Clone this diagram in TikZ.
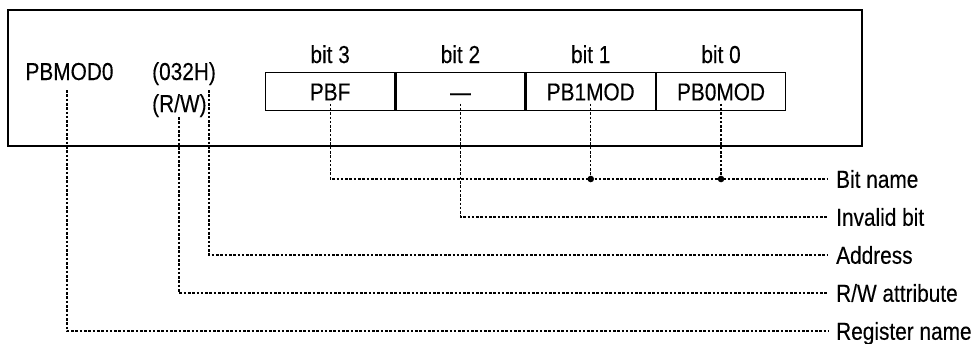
\documentclass[tikz,border=0pt]{standalone}
\usepackage{fontspec}
\setmainfont{Liberation Sans}[FakeStretch=0.85,FakeBold=0.25]
\begin{document}
\begin{tikzpicture}[x=1pt,y=-1pt,
  txt/.style={font=\fontsize{24.5}{28}\selectfont, inner sep=0pt},
  frame/.style={draw, line width=1.5pt},
  cell/.style={txt, draw, line width=1.3pt, minimum width=129pt, minimum height=38pt,
    text height=17.5pt, text depth=0pt, anchor=north west},
  leader/.style={line width=1.2pt, dash pattern=on 2.6pt off 1.7pt},
  tag/.style={txt, anchor=west, text height=17.5pt, text depth=0pt, inner xsep=8pt},
  joint/.style={fill=black}]
\useasboundingbox (0,0) rectangle (975,343);

% register frame
\draw[frame] (8,10) rectangle (862,146);

% register name, address and access
\node[txt, anchor=base] (reg) at (69.5,80) {PBMOD0};
\node[txt, anchor=base west] (addr) at (152,80) {(032H)};
\node[txt, anchor=base west] (rw) at (152,112) {(R/W)};

% bit cells
\node[cell] (b3) at (265,72) {PBF};
\node[cell] (b2) at (b3.north east) {—};
\node[cell] (b1) at (b2.north east) {PB1MOD};
\node[cell] (b0) at (b1.north east) {PB0MOD};

% bit numbers
\node[txt, anchor=base] (h3) at (b3.center |- 0,63) {bit 3};
\node[txt, anchor=base] (h2) at (b2.center |- 0,63) {bit 2};
\node[txt, anchor=base] (h1) at (b1.center |- 0,63) {bit 1};
\node[txt, anchor=base] (h0) at (b0.center |- 0,63) {bit 0};

% legend entries
\node[tag] (tbit) at (828,179) {Bit name};
\node[tag] (tinv) at (828,217) {Invalid bit};
\node[tag] (tadr) at (828,255) {Address};
\node[tag] (trw)  at (828,293) {R/W attribute};
\node[tag] (treg) at (828,331) {Register name};

% leader start points
\coordinate (padr) at (209,90);
\coordinate (prw) at (179,117);
\coordinate (preg) at (67,90);

% leaders
\draw[leader] ([yshift=-12pt]b3.center) |- (tbit.west);
\draw[leader] ([yshift=-12pt]b1.center) -- (b1.center |- tbit.west);
\draw[leader] ([yshift=-12pt]b0.center) -- (b0.center |- tbit.west);
\fill[joint] (b1.center |- tbit.west) circle (3.3pt);
\fill[joint] (b0.center |- tbit.west) circle (3.3pt);
\draw[leader] ([yshift=-12pt]b2.center) |- (tinv.west);
\draw[leader] (padr) |- (tadr.west);
\draw[leader] (prw) |- (trw.west);
\draw[leader] (preg) |- (treg.west);
\end{tikzpicture}
\end{document}
